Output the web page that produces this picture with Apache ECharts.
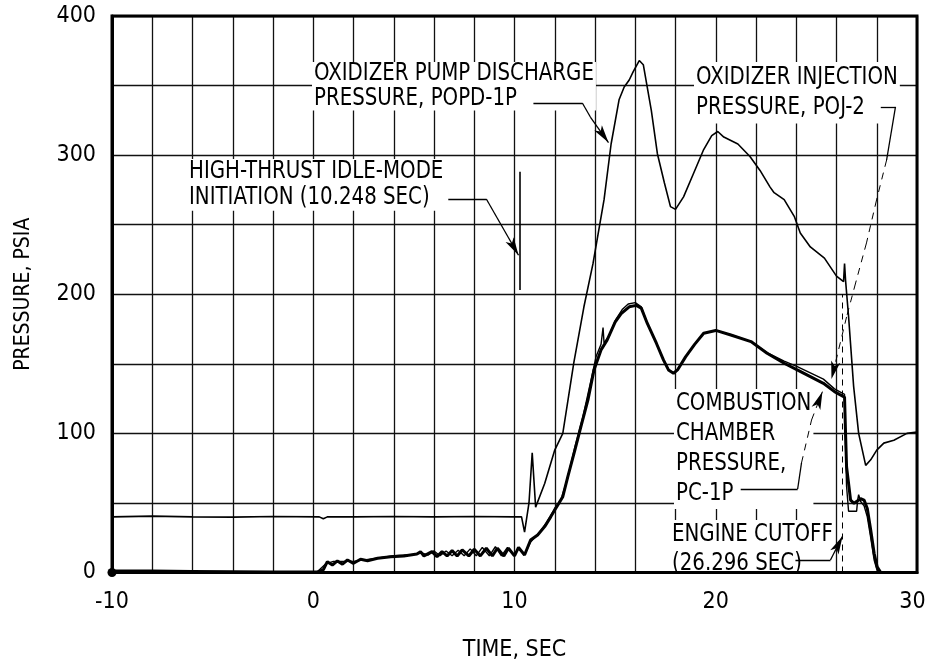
<!DOCTYPE html>
<html>
<head>
<meta charset="utf-8">
<script src="https://cdn.jsdelivr.net/npm/echarts@6/dist/echarts.min.js"></script>
<style>
  html, body { margin: 0; padding: 0; background: #fff; }
  #chart { width: 927px; height: 670px; }
</style>
</head>
<body>
<div id="chart"></div>
<script>
// time (sec), pressure (psia)
const popd1p = [
  [-10, 40], [-8, 40.5], [-6, 40], [-4, 39.8], [-2, 40.2], [0.3, 40], [0.5, 38.6], [0.7, 40],
  [2, 40], [4, 40.2], [6, 40], [8, 40.2], [10, 40], [10.35, 40], [10.5, 29], [10.72, 50],
  [10.88, 86], [11.05, 47], [11.5, 64], [12, 88], [12.4, 100], [12.95, 151], [13.45, 191],
  [13.9, 222], [14.45, 268], [14.8, 308], [15.2, 340], [15.45, 349], [15.7, 354], [15.9, 360],
  [16.2, 368], [16.4, 365], [16.8, 332], [17.1, 301], [17.45, 280], [17.75, 263], [18.0, 261],
  [18.4, 270], [18.9, 287], [19.4, 304], [19.8, 314], [20.1, 317], [20.4, 313], [21.1, 308],
  [21.7, 299], [22.2, 289], [22.7, 277], [22.9, 273], [23.4, 268], [23.9, 256], [24.2, 244],
  [24.7, 234], [25.4, 226], [26.0, 213], [26.35, 209], [26.4, 222], [26.45, 210], [26.6, 184],
  [26.85, 134], [27.1, 100], [27.45, 77], [27.7, 81], [28.0, 88], [28.35, 93], [28.85, 95],
  [29.5, 100], [30, 101]
];

const poj2 = [
  [-10, 0.5], [0.2, 0.5], [0.6, 6], [1.0, 8], [1.5, 8], [2.0, 8], [3, 10], [4, 12], [5, 13],
  [5.4, 14], [5.7, 12.5], [6.0, 15.5], [6.3, 12], [6.6, 15.5], [6.9, 12], [7.2, 16], [7.5, 12],
  [7.8, 17], [8.1, 12], [8.4, 18], [8.75, 12], [9.05, 18.5], [9.35, 12], [9.65, 18], [9.95, 12.5],
  [10.2, 17], [10.5, 13], [10.8, 22], [11.2, 28], [11.6, 36], [12.0, 46], [12.3, 52], [12.6, 66],
  [13.0, 90], [13.4, 112], [13.8, 138], [14.05, 155], [14.3, 164], [14.4, 176], [14.45, 165],
  [14.7, 170], [15.0, 181], [15.35, 189], [15.65, 193], [16.0, 194], [16.3, 191], [16.6, 179],
  [17.05, 165], [17.4, 153], [17.65, 146], [17.9, 143], [18.1, 146], [18.5, 155], [18.95, 164],
  [19.4, 172], [20.0, 174], [20.75, 171], [21.75, 166], [22.55, 158], [23.4, 152], [24.05, 148],
  [24.7, 143.5], [25.35, 139], [25.9, 132], [26.4, 128], [26.45, 90], [26.5, 62], [26.6, 44],
  [27.0, 44], [27.05, 52], [27.1, 56], [27.2, 51], [27.37, 48], [27.53, 40], [27.7, 25],
  [27.87, 9], [28.05, 0], [30, 0]
];

const pc1p = [
  [-10, 0], [-9.8, 1], [-8, 1], [-6, 0.8], [-4, 0.6], [-2, 0.4], [0.2, 0.3], [0.5, 2],
  [0.7, 7.8], [0.95, 5.4], [1.2, 8.3], [1.45, 6], [1.7, 9], [2.0, 6.6], [2.35, 9.5], [2.7, 8.5],
  [3.2, 10.2], [3.85, 11.4], [4.5, 11.9], [5.15, 13.3], [5.33, 15], [5.5, 11.9], [5.9, 15],
  [6.15, 11.4], [6.4, 15], [6.65, 11.9], [6.9, 15.7], [7.15, 11.9], [7.4, 16.2], [7.73, 11.9],
  [8.0, 16.7], [8.3, 11.9], [8.6, 17.4], [8.9, 11.9], [9.15, 17.4], [9.47, 11.9], [9.7, 17.4],
  [10.0, 11.9], [10.2, 18], [10.5, 12.6], [10.8, 23.4], [11.15, 27], [11.5, 33], [11.8, 40],
  [12.0, 45], [12.2, 49.7], [12.4, 54.5], [12.65, 68.9], [13.0, 88], [13.3, 104.8], [13.65, 124],
  [13.95, 145.6], [14.3, 160], [14.6, 167], [15.0, 180], [15.3, 186], [15.7, 191], [16.05, 192],
  [16.3, 190], [16.6, 179], [17.05, 164.8], [17.4, 152.8], [17.65, 145.6], [17.9, 143.2],
  [18.1, 145.6], [18.5, 155], [18.95, 164], [19.4, 172], [20.0, 174], [20.75, 170.7], [21.75, 166],
  [22.55, 157.6], [23.4, 150.4], [24.05, 145.6], [24.7, 140.8], [25.35, 136], [25.9, 130],
  [26.4, 126], [26.45, 100], [26.5, 76], [26.7, 52], [26.87, 49.7], [27.2, 53], [27.37, 52],
  [27.53, 46], [27.7, 30.6], [27.87, 13.8], [28.02, 4], [28.2, 0], [30, 0]
];

const idleModeTime = 10.248;
const cutoffTime = 26.296;

// leader lines for the notes, in data units (last point gets the arrow)
const leaderPopd = [[10.94, 337.5], [13.37, 337.5], [13.77, 327.4], [14.67, 309]];
const leaderIdle = [[6.71, 268.5], [8.6, 268.5], [10.2, 228]];
const leaderPoj = [[28.2, 334.7], [28.93, 334.7], [28.49, 296.5], [27.99, 267.8], [27.49, 236.9], [26.95, 208.1], [26.5, 183.7], [25.75, 139]];
const leaderPc = [[21.24, 60], [24.07, 60], [24.26, 78.7], [24.76, 109.6], [25.3, 130]];
const leaderCutoff = [[23.96, 9], [25.7, 9], [26.3, 26]];

const FONT = "'DejaVu Sans Condensed','Liberation Sans Narrow','DejaVu Sans',sans-serif";

function leader(points, dashFrom, arrow) {
  const segs = [];
  for (let i = 0; i < points.length - 1; i++) {
    const last = i === points.length - 2;
    const dashed = dashFrom != null && i >= dashFrom;
    segs.push([
      { coord: points[i], symbol: 'none', lineStyle: { type: dashed ? [7, 6] : 'solid', width: dashed ? 1 : 1.3 } },
      { coord: points[i + 1], symbol: (last && arrow) ? 'arrow' : 'none', symbolSize: [7, 18] }
    ]);
  }
  return segs;
}

// lettering in the original is tall and narrow: stretch it a little
function note(x, y, text, lh) {
  return {
    type: 'text', x: x, y: y, z: 5, scaleY: 1.1,
    style: {
      text: text, font: '22px ' + FONT, fill: '#000',
      lineHeight: lh, verticalAlign: 'top', align: 'left',
      backgroundColor: '#fff', padding: [0, 2]
    }
  };
}

const chart = echarts.init(document.getElementById('chart'));
chart.setOption({
  animation: false,
  backgroundColor: '#fff',
  grid: {
    left: 112, right: 10, top: 16, bottom: 97.5, outerBoundsMode: 'none',
    show: true, z: 20, borderColor: '#000', borderWidth: 3
  },
  xAxis: {
    type: 'value', min: -10, max: 30, interval: 2,
    name: 'TIME, SEC', nameLocation: 'middle', nameGap: 66,
    nameTextStyle: { fontFamily: FONT, fontSize: 23, color: '#000' },
    axisLine: { lineStyle: { color: '#000', width: 3 } },
    axisTick: { show: false },
    splitLine: { lineStyle: { color: '#111', width: 1.3 } },
    axisLabel: {
      fontFamily: FONT, fontSize: 23, color: '#000', margin: 18,
      formatter: v => (v % 10 !== 0 ? '' : (v === 30 ? '{r|30}' : String(v))),
      rich: { r: { fontFamily: FONT, fontSize: 23, color: '#000', padding: [0, 9, 0, 0] } }
    }
  },
  yAxis: {
    type: 'value', min: 0, max: 400, interval: 50,
    name: 'PRESSURE, PSIA', nameLocation: 'middle', nameGap: 78,
    nameTextStyle: { fontFamily: FONT, fontSize: 21, color: '#000' },
    axisLine: { show: true, onZero: false, lineStyle: { color: '#000', width: 3 } },
    axisTick: { show: false },
    splitLine: { lineStyle: { color: '#111', width: 1.3 } },
    axisLabel: {
      fontFamily: FONT, fontSize: 23, color: '#000', margin: 16,
      formatter: v => (v % 100 === 0 ? String(v) : '')
    }
  },
  series: [
    {
      name: 'POPD-1P', type: 'line', data: popd1p, symbol: 'none', z: 10,
      lineStyle: { color: '#000', width: 1.6 }
    },
    {
      name: 'POJ-2', type: 'line', data: poj2, symbol: 'none', z: 10,
      lineStyle: { color: '#000', width: 1.4 }
    },
    {
      name: 'PC-1P', type: 'line', z: 11,
      data: pc1p.map((p, i) => i === 0 ? { value: p, symbol: 'circle', symbolSize: 9 } : { value: p, symbol: 'none' }),
      showSymbol: true,
      itemStyle: { color: '#000' },
      lineStyle: { color: '#000', width: 3 }
    },
    {
      name: 'notes', type: 'line', data: [], z: 12,
      markLine: {
        silent: true, animation: false, symbol: ['none', 'none'],
        label: { show: false },
        lineStyle: { color: '#000', width: 1.3, type: 'solid' },
        emphasis: { disabled: true },
        data: [].concat(
          leader(leaderPopd, null, true),
          leader(leaderIdle, null, true),
          leader(leaderPoj, 2, true),
          leader(leaderPc, 2, true),
          leader(leaderCutoff, null, true),
          [[{ coord: [idleModeTime, 203], symbol: 'none', lineStyle: { width: 1.6, type: 'solid' } }, { coord: [idleModeTime, 288], symbol: 'none' }]],
          [[{ coord: [cutoffTime, 0], symbol: 'none', lineStyle: { width: 1, type: [6, 5] } }, { coord: [cutoffTime, 200], symbol: 'none' }]]
        )
      }
    }
  ],
  graphic: [
    note(312, 62, 'OXIDIZER PUMP DISCHARGE\nPRESSURE, POPD-1P', 22),
    note(694, 62, 'OXIDIZER INJECTION\nPRESSURE, POJ-2', 28),
    note(187, 159, 'HIGH-THRUST IDLE-MODE\nINITIATION (10.248 SEC)', 23.5),
    note(674, 389, 'COMBUSTION\nCHAMBER\nPRESSURE,\nPC-1P', 27.3),
    note(670, 520, 'ENGINE CUTOFF\n(26.296 SEC)', 26.4)
  ]
});
</script>
</body>
</html>
